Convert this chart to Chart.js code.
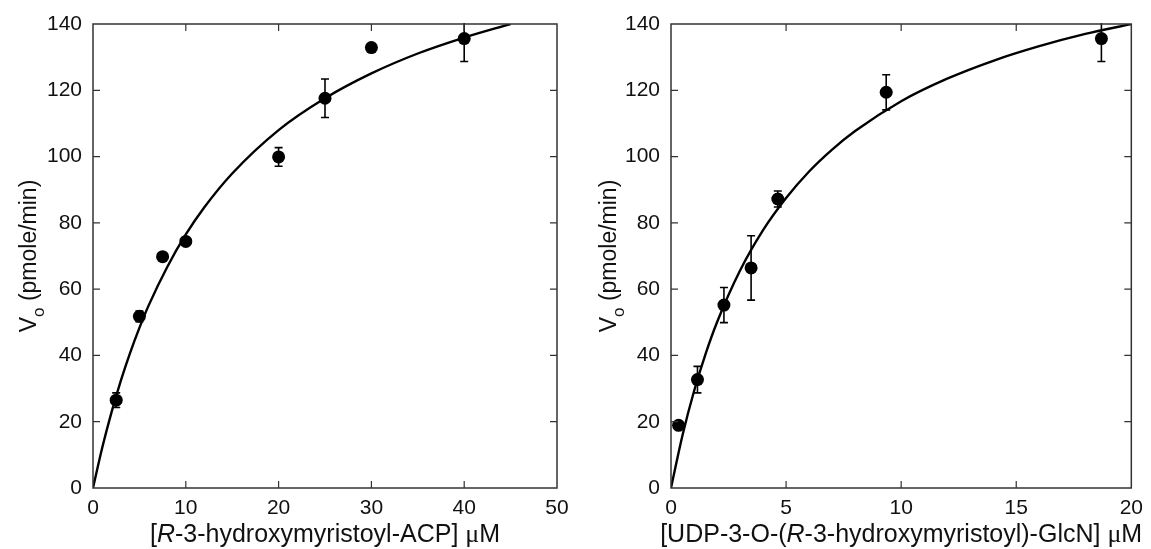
<!DOCTYPE html>
<html>
<head>
<meta charset="utf-8">
<script src="https://cdn.jsdelivr.net/npm/chart.js@4.4.1/dist/chart.umd.min.js"></script>
<style>
  body { margin: 0; background: #fff; }
  #wrap { position: relative; width: 1151px; height: 549px; }
  canvas { position: absolute; top: 0; }
</style>
</head>
<body>
<div id="wrap">
  <canvas id="left" width="580" height="549" style="left:0"></canvas>
  <canvas id="right" width="571" height="549" style="left:580px"></canvas>
</div>
<script>
// left panel: R-3-hydroxymyristoyl-ACP
const leftX = [2.5, 5, 7.5, 10, 20, 25, 30, 40];
const leftY = [26.5, 51.8, 69.8, 74.4, 99.9, 117.6, 132.9, 135.6];
const leftErr = [2.2, 1.6, 0.8, 0, 2.8, 5.8, 0, 6.9];
const leftFitX = [0, 1, 2, 3, 4, 5, 6, 8, 10, 12, 15, 20, 25, 30, 35, 40, 45];
const leftFitY = [0, 12.2, 22.9, 32.4, 40.8, 48.3, 55.1, 66.7, 76.5, 84.7, 94.9, 108.0, 117.6, 125.1, 131.1, 135.9, 140.0];

// right panel: UDP-3-O-(R-3-hydroxymyristoyl)-GlcN
const rightX = [0.33, 1.15, 2.3, 3.48, 4.64, 9.35, 18.7];
const rightY = [18.9, 32.7, 55.2, 66.4, 87.2, 119.4, 135.6];
const rightErr = [0, 4.0, 5.3, 9.7, 2.4, 5.3, 6.9];
const rightFitX = [0, 0.5, 1, 1.5, 2, 3, 4, 5, 6, 7, 8, 10, 12, 14, 16, 18, 20];
const rightFitY = [0, 15.9, 29.2, 40.4, 50.0, 65.6, 77.8, 87.5, 95.5, 102.1, 107.7, 116.7, 123.5, 128.9, 133.3, 137.0, 140.0];

const FONT = '"Liberation Sans", Arial, sans-serif';
const INK = '#111';
const FRAME = '#333';

// frame + inward tick marks on all four sides
const framePlugin = {
  id: 'frame',
  afterDraw(chart) {
    const { ctx, chartArea: a, scales: { x, y } } = chart;
    ctx.save();
    ctx.strokeStyle = FRAME;
    ctx.lineWidth = 1.5;
    ctx.strokeRect(a.left, a.top, a.right - a.left, a.bottom - a.top);
    ctx.lineWidth = 1.2;
    const len = 7;
    ctx.beginPath();
    x.ticks.forEach(t => {
      const px = x.getPixelForValue(t.value);
      if (px <= a.left + 1 || px >= a.right - 1) return;
      ctx.moveTo(px, a.bottom); ctx.lineTo(px, a.bottom - len);
      ctx.moveTo(px, a.top); ctx.lineTo(px, a.top + len);
    });
    y.ticks.forEach(t => {
      const py = y.getPixelForValue(t.value);
      if (py <= a.top + 1 || py >= a.bottom - 1) return;
      ctx.moveTo(a.left, py); ctx.lineTo(a.left + len, py);
      ctx.moveTo(a.right, py); ctx.lineTo(a.right - len, py);
    });
    ctx.stroke();
    ctx.restore();
  }
};

// vertical error bars with caps, from the dataset's err array
const errPlugin = {
  id: 'errbars',
  beforeDatasetsDraw(chart) {
    const { ctx, chartArea: a, scales: { x, y } } = chart;
    ctx.save();
    ctx.beginPath();
    ctx.rect(a.left, a.top - 1, a.right - a.left, a.bottom - a.top + 2);
    ctx.clip();
    ctx.strokeStyle = '#000';
    ctx.lineWidth = 1.6;
    chart.data.datasets.forEach(ds => {
      if (!ds.err) return;
      ds.data.forEach((p, i) => {
        const e = ds.err[i];
        if (!e) return;
        const px = x.getPixelForValue(p.x);
        const y1 = y.getPixelForValue(p.y + e);
        const y2 = y.getPixelForValue(p.y - e);
        ctx.beginPath();
        ctx.moveTo(px, y1); ctx.lineTo(px, y2);
        ctx.moveTo(px - 4, y1); ctx.lineTo(px + 4, y1);
        ctx.moveTo(px - 4, y2); ctx.lineTo(px + 4, y2);
        ctx.stroke();
      });
    });
    ctx.restore();
  }
};

// axis titles with italic R, serif mu and a subscript o
const titlePlugin = {
  id: 'titles',
  afterDraw(chart, args, opts) {
    const { ctx, chartArea: a } = chart;
    ctx.save();
    ctx.fillStyle = INK;
    ctx.textBaseline = 'alphabetic';
    // x title, segments of [text, font]
    const segs = opts.xTitle;
    let w = 0;
    segs.forEach(s => { ctx.font = s[1]; w += ctx.measureText(s[0]).width; });
    let cx = (a.left + a.right) / 2 - w / 2;
    segs.forEach(s => {
      ctx.font = s[1];
      ctx.fillText(s[0], cx, 542);
      cx += ctx.measureText(s[0]).width;
    });
    // y title, rotated
    ctx.translate(opts.yTitleX, (a.top + a.bottom) / 2);
    ctx.rotate(-Math.PI / 2);
    const big = '23px ' + FONT, sub = '17px ' + FONT;
    ctx.font = big;
    const wV = ctx.measureText('V').width;
    const wRest = ctx.measureText(' (pmole/min)').width;
    ctx.font = sub;
    const wO = ctx.measureText('o').width;
    let ty = -(wV + wO + wRest) / 2;
    ctx.font = big;
    ctx.fillText('V', ty, 0);
    ty += wV;
    ctx.font = sub;
    ctx.fillText('o', ty, 8);
    ty += wO;
    ctx.font = big;
    ctx.fillText(' (pmole/min)', ty, 0);
    ctx.restore();
  }
};

function makeChart(id, px, py, pErr, fx, fy, xMax, xStep, padRight, yWidth, xTitle, yTitleX) {
  const pts = px.map((v, i) => ({ x: v, y: py[i] }));
  const fit = fx.map((v, i) => ({ x: v, y: fy[i] }));
  return new Chart(document.getElementById(id), {
    type: 'scatter',
    data: {
      datasets: [
        {
          data: fit,
          showLine: true,
          borderColor: '#000',
          borderWidth: 2.4,
          pointRadius: 0,
          cubicInterpolationMode: 'monotone',
          order: 2
        },
        {
          data: pts,
          err: pErr,
          pointRadius: 6.5,
          pointBackgroundColor: '#000',
          pointBorderColor: '#000',
          pointBorderWidth: 0,
          order: 1
        }
      ]
    },
    options: {
      responsive: false,
      animation: false,
      devicePixelRatio: 1,
      layout: { padding: { top: 24, right: padRight, left: 0, bottom: 0 } },
      plugins: {
        legend: { display: false },
        tooltip: { enabled: false },
        titles: { xTitle: xTitle, yTitleX: yTitleX }
      },
      scales: {
        x: {
          type: 'linear',
          min: 0, max: xMax,
          grid: { display: false, drawTicks: false },
          border: { display: false },
          ticks: { stepSize: xStep, padding: 8, color: INK, font: { family: FONT, size: 21 } },
          afterFit(s) { s.height = 61; }
        },
        y: {
          type: 'linear',
          min: 0, max: 140,
          grid: { display: false, drawTicks: false },
          border: { display: false },
          ticks: { stepSize: 20, padding: 11, color: INK, font: { family: FONT, size: 21 } },
          afterFit(s) { s.width = yWidth; }
        }
      }
    },
    plugins: [errPlugin, framePlugin, titlePlugin]
  });
}

const F = '25px ' + FONT, FI = 'italic 25px ' + FONT, FS = '26px "Liberation Serif", serif';

makeChart('left', leftX, leftY, leftErr, leftFitX, leftFitY, 50, 10, 23, 93,
  [['[', F], ['R', FI], ['-3-hydroxymyristoyl-ACP] ', F], ['\u03bc', FS], ['M', F]], 36);

makeChart('right', rightX, rightY, rightErr, rightFitX, rightFitY, 20, 5, 18, 91,
  [['[UDP-3-O-(', F], ['R', FI], ['-3-hydroxymyristoyl)-GlcN] ', F], ['\u03bc', FS], ['M', F]], 36);
</script>
</body>
</html>
